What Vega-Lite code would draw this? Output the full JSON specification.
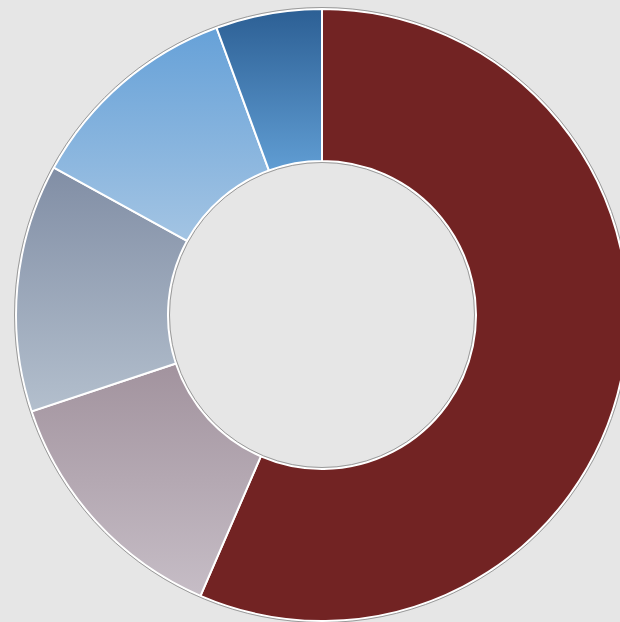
{
  "$schema": "https://vega.github.io/schema/vega-lite/v6.json",
  "autosize": {"type": "fit", "contains": "padding"},
  "width": 620,
  "height": 622,
  "padding": {"left": 24, "top": 8, "right": 0, "bottom": 0},
  "background": "#e6e6e6",
  "config": {"view": {"stroke": null}},
  "data": {"values": [
    {"category": "A", "order": 1, "value": 56.5},
    {"category": "B", "order": 2, "value": 13.4},
    {"category": "C", "order": 3, "value": 13.1},
    {"category": "D", "order": 4, "value": 11.4},
    {"category": "E", "order": 5, "value": 5.6}
  ]},
  "transform": [
    {"stack": "value", "groupby": [], "sort": [{"field": "order", "order": "ascending"}], "as": ["v0", "v1"]}
  ],
  "encoding": {
    "theta": {"field": "v0", "type": "quantitative", "scale": {"domain": [0, 100]}},
    "theta2": {"field": "v1"}
  },
  "layer": [
    {
      "transform": [{"filter": "datum.category === 'A'"}],
      "mark": {"type": "arc", "radius": 306, "radius2": 154, "stroke": "#ffffff", "strokeWidth": 2, "color": "#722323"}
    },
    {
      "transform": [{"filter": "datum.category === 'B'"}],
      "mark": {"type": "arc", "radius": 306, "radius2": 154, "stroke": "#ffffff", "strokeWidth": 2,
        "color": {"gradient": "linear", "x1": 0, "y1": 0, "x2": 0, "y2": 1, "stops": [{"offset": 0, "color": "#a2939e"}, {"offset": 1, "color": "#c6bdc6"}]}}
    },
    {
      "transform": [{"filter": "datum.category === 'C'"}],
      "mark": {"type": "arc", "radius": 306, "radius2": 154, "stroke": "#ffffff", "strokeWidth": 2,
        "color": {"gradient": "linear", "x1": 0, "y1": 0, "x2": 0, "y2": 1, "stops": [{"offset": 0, "color": "#818ea5"}, {"offset": 1, "color": "#b3bfcd"}]}}
    },
    {
      "transform": [{"filter": "datum.category === 'D'"}],
      "mark": {"type": "arc", "radius": 306, "radius2": 154, "stroke": "#ffffff", "strokeWidth": 2,
        "color": {"gradient": "linear", "x1": 0, "y1": 0, "x2": 0, "y2": 1, "stops": [{"offset": 0, "color": "#66a1d8"}, {"offset": 1, "color": "#a3c4e3"}]}}
    },
    {
      "transform": [{"filter": "datum.category === 'E'"}],
      "mark": {"type": "arc", "radius": 306, "radius2": 154, "stroke": "#ffffff", "strokeWidth": 2,
        "color": {"gradient": "linear", "x1": 0, "y1": 0, "x2": 0, "y2": 1, "stops": [{"offset": 0, "color": "#2c5f94"}, {"offset": 1, "color": "#609dd3"}]}}
    },
    {
      "transform": [{"filter": "datum.category === 'A'"}],
      "mark": {"type": "arc", "radius": 307.5, "radius2": 152.5, "theta": 0, "theta2": 6.2832, "fillOpacity": 0, "stroke": "#9a9a9a", "strokeWidth": 1},
      "encoding": {"theta": null, "theta2": null}
    }
  ]
}
